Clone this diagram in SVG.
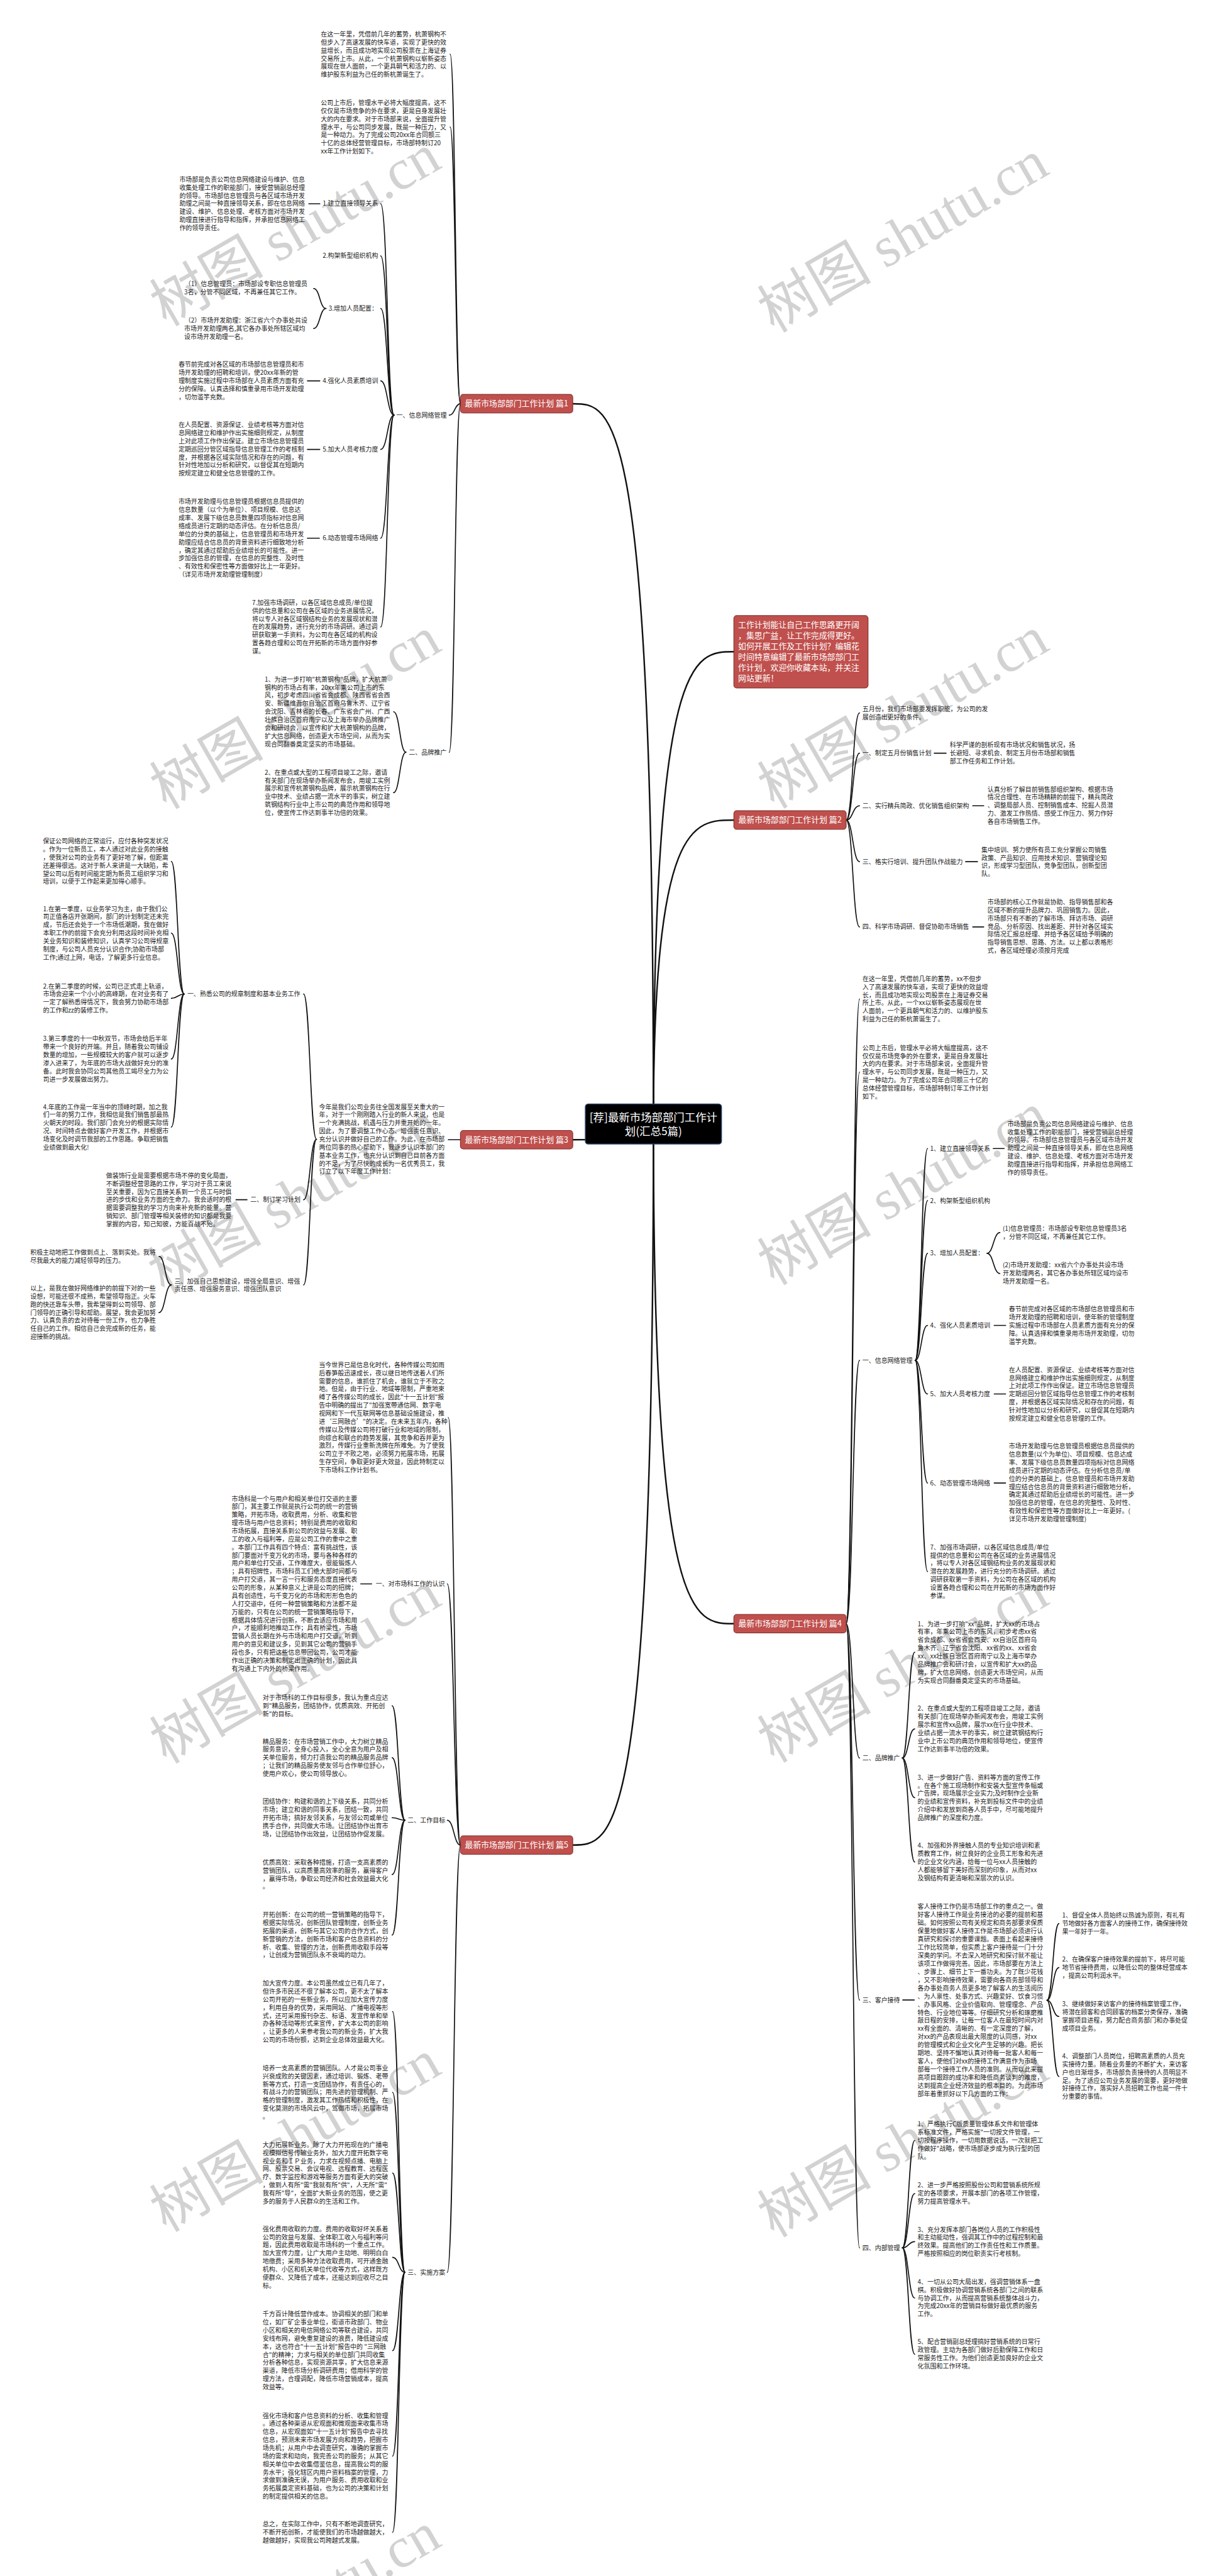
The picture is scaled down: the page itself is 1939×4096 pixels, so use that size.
<svg xmlns="http://www.w3.org/2000/svg" width="1939" height="4096" viewBox="0 0 1939 4096">
<style>
.t{font-family:"Noto Sans CJK SC","Noto Sans",sans-serif;font-size:13.2px;fill:#222}
.n{font-family:"Noto Sans CJK SC","Noto Sans",sans-serif;font-size:17px;fill:#fff}
.c{font-family:"Noto Sans CJK SC","Noto Sans",sans-serif;font-size:23px;fill:#fff}
.wm{font-family:"Liberation Serif","Noto Sans CJK SC",serif;font-size:120px;fill:#d2d2d2}
.l{fill:none;stroke:#111;stroke-width:2.2;stroke-linecap:round}
.r{fill:none;stroke:#111;stroke-width:3.2;stroke-linecap:round}
.nb{fill:#c0504d;stroke:#7d2c2a;stroke-width:1.5}
.cb{fill:#000;stroke:#243f62;stroke-width:2}
</style>
<rect width="1939" height="4096" fill="#fff"/>
<g transform="scale(0.757)">
<g id="watermarks">
<text class="wm" transform="translate(349 687) rotate(-30)">树图 shutu.cn</text>
<text class="wm" transform="translate(349 1701) rotate(-30)">树图 shutu.cn</text>
<text class="wm" transform="translate(345 2720) rotate(-30)">树图 shutu.cn</text>
<text class="wm" transform="translate(349 3706) rotate(-30)">树图 shutu.cn</text>
<text class="wm" transform="translate(349 4690) rotate(-30)">树图 shutu.cn</text>
<text class="wm" transform="translate(349 5682) rotate(-30)">树图 shutu.cn</text>
<text class="wm" transform="translate(1626 700) rotate(-30)">树图 shutu.cn</text>
<text class="wm" transform="translate(1626 1700) rotate(-30)">树图 shutu.cn</text>
<text class="wm" transform="translate(1626 2701) rotate(-30)">树图 shutu.cn</text>
<text class="wm" transform="translate(1626 3704) rotate(-30)">树图 shutu.cn</text>
<text class="wm" transform="translate(1626 4701) rotate(-30)">树图 shutu.cn</text>
</g>
<g id="connectors">
<path class="r" d="M1373 2361 C1373 848 1288 848 1203.5 848"/>
<path class="r" d="M1373 2361 C1373 1369 1457 1369 1542 1369"/>
<path class="r" d="M1373 2361 C1373 1722.5 1457 1722.5 1542 1722.5"/>
<path class="r" d="M1373 2361 C1373 2394 1288 2394 1203.5 2394"/>
<path class="r" d="M1373 2361 C1373 3410.5 1457 3410.5 1542 3410.5"/>
<path class="r" d="M1373 2361 C1373 3875.5 1288 3875.5 1203.5 3875.5"/>
<path class="l" d="M967.5 848 C956.8 848 956.8 114 946 114"/>
<path class="l" d="M967.5 848 C956.8 848 956.8 267 946 267"/>
<path class="l" d="M967.5 848 C955.8 848 955.8 872 944 872"/>
<path class="l" d="M967.5 848 C955.8 848 955.8 1580 944 1580"/>
<path class="l" d="M828 872 C814 872 814 428 800 428"/>
<path class="l" d="M828 872 C814 872 814 537.5 800 537.5"/>
<path class="l" d="M828 872 C814 872 814 648 800 648"/>
<path class="l" d="M828 872 C814 872 814 800 800 800"/>
<path class="l" d="M828 872 C814 872 814 944 800 944"/>
<path class="l" d="M828 872 C814 872 814 1130.5 800 1130.5"/>
<path class="l" d="M828 872 C814 872 814 1317 800 1317"/>
<path class="l" d="M649 428 H672"/>
<path class="l" d="M646 800 H672"/>
<path class="l" d="M646 944 H672"/>
<path class="l" d="M646 1130.5 H671"/>
<path class="l" d="M685 648 C672 648 672 606 659 606"/>
<path class="l" d="M685 648 C672 648 672 690 659 690"/>
<path class="l" d="M853 1580 C840 1580 840 1495 827 1495"/>
<path class="l" d="M853 1580 C840 1580 840 1665 827 1665"/>
<path class="l" d="M942 2394 H967.5"/>
<path class="l" d="M665 2393 C651.5 2393 651.5 2088 638 2088"/>
<path class="l" d="M665 2393 C651.5 2393 651.5 2520 638 2520"/>
<path class="l" d="M665 2393 C651.5 2393 651.5 2699 638 2699"/>
<path class="l" d="M387 2088 C373.5 2088 373.5 1809.5 360 1809.5"/>
<path class="l" d="M387 2088 C373.5 2088 373.5 1960 360 1960"/>
<path class="l" d="M387 2088 C373.5 2088 373.5 2097 360 2097"/>
<path class="l" d="M387 2088 C373.5 2088 373.5 2224.5 360 2224.5"/>
<path class="l" d="M387 2088 C373.5 2088 373.5 2367.5 360 2367.5"/>
<path class="l" d="M496 2520 H519"/>
<path class="l" d="M360 2699 C347 2699 347 2639 334 2639"/>
<path class="l" d="M360 2699 C347 2699 347 2757 334 2757"/>
<path class="l" d="M967.5 3875.5 C954.8 3875.5 954.8 2977.5 942 2977.5"/>
<path class="l" d="M967.5 3875.5 C953.8 3875.5 953.8 3327 940 3327"/>
<path class="l" d="M967.5 3875.5 C953.8 3875.5 953.8 3823.5 940 3823.5"/>
<path class="l" d="M967.5 3875.5 C953.8 3875.5 953.8 4773 940 4773"/>
<path class="l" d="M758 3327 H781"/>
<path class="l" d="M851 3823.5 C837.5 3823.5 837.5 3583 824 3583"/>
<path class="l" d="M851 3823.5 C837.5 3823.5 837.5 3692 824 3692"/>
<path class="l" d="M851 3823.5 C837.5 3823.5 837.5 3818 824 3818"/>
<path class="l" d="M851 3823.5 C837.5 3823.5 837.5 3937.5 824 3937.5"/>
<path class="l" d="M851 3823.5 C837.5 3823.5 837.5 4064.5 824 4064.5"/>
<path class="l" d="M851 4773 C838 4773 838 4225.5 825 4225.5"/>
<path class="l" d="M851 4773 C838 4773 838 4395 825 4395"/>
<path class="l" d="M851 4773 C838 4773 838 4564.5 825 4564.5"/>
<path class="l" d="M851 4773 C838 4773 838 4741.5 825 4741.5"/>
<path class="l" d="M851 4773 C838 4773 838 4937.5 825 4937.5"/>
<path class="l" d="M851 4773 C838 4773 838 5159 825 5159"/>
<path class="l" d="M851 4773 C838 4773 838 5319 825 5319"/>
<path class="l" d="M1778 1722.5 C1792 1722.5 1792 1497.5 1806 1497.5"/>
<path class="l" d="M1778 1722.5 C1792 1722.5 1792 1582 1806 1582"/>
<path class="l" d="M1778 1722.5 C1792 1722.5 1792 1692.5 1806 1692.5"/>
<path class="l" d="M1778 1722.5 C1792 1722.5 1792 1810 1806 1810"/>
<path class="l" d="M1778 1722.5 C1792 1722.5 1792 1947 1806 1947"/>
<path class="l" d="M1963 1582 H1988"/>
<path class="l" d="M2044 1692.5 H2067"/>
<path class="l" d="M2029 1810 H2054"/>
<path class="l" d="M2044 1947 H2067"/>
<path class="l" d="M1778 3410.5 C1792 3410.5 1792 2098.5 1806 2098.5"/>
<path class="l" d="M1778 3410.5 C1792 3410.5 1792 2252 1806 2252"/>
<path class="l" d="M1778 3410.5 C1792 3410.5 1792 2857.5 1806 2857.5"/>
<path class="l" d="M1778 3410.5 C1792 3410.5 1792 3692.7 1806 3692.7"/>
<path class="l" d="M1778 3410.5 C1792 3410.5 1792 4201 1806 4201"/>
<path class="l" d="M1778 3410.5 C1792 3410.5 1792 4721.6 1806 4721.6"/>
<path class="l" d="M1923 2857.5 C1936 2857.5 1936 2412.5 1949 2412.5"/>
<path class="l" d="M1923 2857.5 C1936 2857.5 1936 2522 1949 2522"/>
<path class="l" d="M1923 2857.5 C1936 2857.5 1936 2632.5 1949 2632.5"/>
<path class="l" d="M1923 2857.5 C1936 2857.5 1936 2784 1949 2784"/>
<path class="l" d="M1923 2857.5 C1936 2857.5 1936 2928 1949 2928"/>
<path class="l" d="M1923 2857.5 C1936 2857.5 1936 3115 1949 3115"/>
<path class="l" d="M1923 2857.5 C1936 2857.5 1936 3301 1949 3301"/>
<path class="l" d="M2087 2412.5 H2110"/>
<path class="l" d="M2089 2784 H2113"/>
<path class="l" d="M2089 2928 H2113"/>
<path class="l" d="M2089 3115 H2113"/>
<path class="l" d="M2074 2632.5 C2087.5 2632.5 2087.5 2589 2101 2589"/>
<path class="l" d="M2074 2632.5 C2087.5 2632.5 2087.5 2675 2101 2675"/>
<path class="l" d="M1896 3692.7 C1909 3692.7 1909 3470.5 1922 3470.5"/>
<path class="l" d="M1896 3692.7 C1909 3692.7 1909 3631.5 1922 3631.5"/>
<path class="l" d="M1896 3692.7 C1909 3692.7 1909 3776 1922 3776"/>
<path class="l" d="M1896 3692.7 C1909 3692.7 1909 3911 1922 3911"/>
<path class="l" d="M1897 4201 H1921"/>
<path class="l" d="M2200 4201.5 C2212.5 4201.5 2212.5 4040.5 2225 4040.5"/>
<path class="l" d="M2200 4201.5 C2212.5 4201.5 2212.5 4133 2225 4133"/>
<path class="l" d="M2200 4201.5 C2212.5 4201.5 2212.5 4235.5 2225 4235.5"/>
<path class="l" d="M2200 4201.5 C2212.5 4201.5 2212.5 4361.5 2225 4361.5"/>
<path class="l" d="M1896 4721.6 C1909 4721.6 1909 4496 1922 4496"/>
<path class="l" d="M1896 4721.6 C1909 4721.6 1909 4607.5 1922 4607.5"/>
<path class="l" d="M1896 4721.6 C1909 4721.6 1909 4708.5 1922 4708.5"/>
<path class="l" d="M1896 4721.6 C1909 4721.6 1909 4827 1922 4827"/>
<path class="l" d="M1896 4721.6 C1909 4721.6 1909 4945 1922 4945"/>
</g>

<g id="root"><rect class="cb" x="1230" y="2319" width="286" height="84" rx="6"/>
<text class="c" text-anchor="middle" x="1373" y="2356">[荐]最新市场部部门工作计</text>
<text class="c" text-anchor="middle" x="1373" y="2385">划(汇总5篇)</text></g>

<g id="intro"><rect class="nb" x="1542" y="1293" width="282" height="152" rx="6"/>
<text class="n" x="1551" y="1318"><tspan x="1551">工作计划能让自己工作思路更开阔</tspan><tspan x="1551" dy="22.6">，集思广益，让工作完成得更好。</tspan><tspan x="1551" dy="22.6">如何开展工作及工作计划？编辑花</tspan><tspan x="1551" dy="22.6">时间特意编辑了最新市场部部门工</tspan><tspan x="1551" dy="22.6">作计划，欢迎你收藏本站，并关注</tspan><tspan x="1551" dy="22.6">网站更新！</tspan></text></g>

<g id="p1"><rect class="nb" x="967.5" y="828.5" width="236" height="39" rx="6"/><text class="n" text-anchor="middle" x="1085.5" y="854">最新市场部部门工作计划 篇1</text></g>
<g id="p2"><rect class="nb" x="1542" y="1703" width="236" height="39" rx="6"/><text class="n" text-anchor="middle" x="1660" y="1728.5">最新市场部部门工作计划 篇2</text></g>
<g id="p3"><rect class="nb" x="967.5" y="2374.5" width="236" height="39" rx="6"/><text class="n" text-anchor="middle" x="1085.5" y="2400">最新市场部部门工作计划 篇3</text></g>
<g id="p4"><rect class="nb" x="1542" y="3391" width="236" height="39" rx="6"/><text class="n" text-anchor="middle" x="1660" y="3416.5">最新市场部部门工作计划 篇4</text></g>
<g id="p5"><rect class="nb" x="967.5" y="3856" width="236" height="39" rx="6"/><text class="n" text-anchor="middle" x="1085.5" y="3881.5">最新市场部部门工作计划 篇5</text></g>

<g id="p1-a1"><text class="t" x="674" y="76.6"><tspan x="674">在这一年里，凭借前几年的蓄势，杭萧钢构不</tspan><tspan x="674" dy="17">但步入了高速发展的快车道，实现了更快的效</tspan><tspan x="674" dy="17">益增长，而且成功地实现公司股票在上海证券</tspan><tspan x="674" dy="17">交易所上市。从此，一个杭萧钢构以崭新姿态</tspan><tspan x="674" dy="17">展现在世人面前，一个更具朝气和活力的、以</tspan><tspan x="674" dy="17">维护股东利益为己任的新杭萧诞生了。</tspan></text></g>
<g id="p1-a2"><text class="t" x="674" y="220.6"><tspan x="674">公司上市后，管理水平必将大幅度提高，这不</tspan><tspan x="674" dy="17">仅仅是市场竞争的外在要求，更是自身发展壮</tspan><tspan x="674" dy="17">大的内在要求。对于市场部来说，全面提升管</tspan><tspan x="674" dy="17">理水平，与公司同步发展，既是一种压力，又</tspan><tspan x="674" dy="17">是一种动力。为了完成公司20xx年合同额三</tspan><tspan x="674" dy="17">十亿的总体经营管理目标，市场部特制订20</tspan><tspan x="674" dy="17">xx年工作计划如下。</tspan></text></g>
<g id="p1-s1"><text class="t" x="833" y="876.6">一、信息网络管理</text></g>
<g id="p1-i1"><text class="t" x="678" y="432.6">1.建立直接领导关系</text></g>
<g id="p1-i2"><text class="t" x="678" y="542">2.构架新型组织机构</text></g>
<g id="p1-i3"><text class="t" x="690.5" y="652.6">3.增加人员配置：</text></g>
<g id="p1-i4"><text class="t" x="678" y="804.6">4.强化人员素质培训</text></g>
<g id="p1-i5"><text class="t" x="678" y="948.6">5.加大人员考核力度</text></g>
<g id="p1-i6"><text class="t" x="678" y="1135">6.动态管理市场网络</text></g>
<g id="p1-i7"><text class="t" x="529.6" y="1270.6"><tspan x="529.6">7.加强市场调研，以各区域信息成员/单位提</tspan><tspan x="529.6" dy="17">供的信息量和公司在各区域的业务进展情况，</tspan><tspan x="529.6" dy="17">将以专人对各区域钢结构业务的发展现状和潜</tspan><tspan x="529.6" dy="17">在的发展趋势，进行充分的市场调研。通过调</tspan><tspan x="529.6" dy="17">研获取第一手资料，为公司在各区域的机构设</tspan><tspan x="529.6" dy="17">置各趋合理和公司在开拓新的市场方面作好参</tspan><tspan x="529.6" dy="17">谋。</tspan></text></g>
<g id="p1-b1"><text class="t" x="377" y="381.6"><tspan x="377">市场部是负责公司信息网络建设与维护、信息</tspan><tspan x="377" dy="17">收集处理工作的职能部门，接受营销副总经理</tspan><tspan x="377" dy="17">的领导。市场部信息管理员与各区域市场开发</tspan><tspan x="377" dy="17">助理之间是一种直接领导关系，即在信息网络</tspan><tspan x="377" dy="17">建设、维护、信息处理、考核方面对市场开发</tspan><tspan x="377" dy="17">助理直接进行指导和指挥，并承担信息网络工</tspan><tspan x="377" dy="17">作的领导责任。</tspan></text></g>
<g id="p1-b3a"><text class="t" x="388" y="601.6"><tspan x="388">（1）信息管理员：市场部设专职信息管理员</tspan><tspan x="387" dy="17">3名，分管不同区域，不再兼任其它工作。</tspan></text></g>
<g id="p1-b3b"><text class="t" x="388" y="677.6"><tspan x="388">（2）市场开发助理：浙江省六个办事处共设</tspan><tspan x="387" dy="17">市场开发助理两名,其它各办事处所辖区域均</tspan><tspan x="387" dy="17">设市场开发助理一名。</tspan></text></g>
<g id="p1-b4"><text class="t" x="375" y="770.6"><tspan x="375">春节前完成对各区域的市场部信息管理员和市</tspan><tspan x="375" dy="17">场开发助理的招聘和培训，使20xx年新的管</tspan><tspan x="375" dy="17">理制度实施过程中市场部在人员素质方面有充</tspan><tspan x="375" dy="17">分的保障。认真选择和慎重录用市场开发助理</tspan><tspan x="375" dy="17">，切勿滥竽充数。</tspan></text></g>
<g id="p1-b5"><text class="t" x="375" y="897"><tspan x="375">在人员配置、资源保证、业绩考核等方面对信</tspan><tspan x="375" dy="17">息网络建立和维护作出实施细则规定，从制度</tspan><tspan x="375" dy="17">上对此项工作作出保证。建立市场信息管理员</tspan><tspan x="375" dy="17">定期巡回分管区域指导信息管理工作的考核制</tspan><tspan x="375" dy="17">度，并根据各区域实际情况和存在的问题，有</tspan><tspan x="375" dy="17">针对性地加以分析和研究，以督促其在短期内</tspan><tspan x="375" dy="17">按规定建立和健全信息管理的工作。</tspan></text></g>
<g id="p1-b6"><text class="t" x="375" y="1058.6"><tspan x="375">市场开发助理与信息管理员根据信息员提供的</tspan><tspan x="375" dy="17">信息数量（以个为单位）、项目规模、信息达</tspan><tspan x="375" dy="17">成率、发展下级信息员数量四项指标对信息网</tspan><tspan x="375" dy="17">络成员进行定期的动态评估。在分析信息员/</tspan><tspan x="375" dy="17">单位的分类的基础上，信息管理员和市场开发</tspan><tspan x="375" dy="17">助理应结合信息员的背景资料进行细致地分析</tspan><tspan x="375" dy="17">，确定其通过帮助后业绩增长的可能性。进一</tspan><tspan x="375" dy="17">步加强信息的管理，在信息的完整性、及时性</tspan><tspan x="375" dy="17">、有效性和保密性等方面做好比上一年更好。</tspan><tspan x="375" dy="17">（详见市场开发助理管理制度）</tspan></text></g>
<g id="p1-s2"><text class="t" x="859" y="1584.6">二、品牌推广</text></g>
<g id="p1-c1"><text class="t" x="556" y="1431.6"><tspan x="556">1、为进一步打响"杭萧钢构"品牌，扩大杭萧</tspan><tspan x="556" dy="17">钢构的市场占有率，20xx年乘公司上市的东</tspan><tspan x="556" dy="17">风，初步考虑四川省省会成都、陕西省省会西</tspan><tspan x="556" dy="17">安、新疆维吾尔自治区首府乌鲁木齐、辽宁省</tspan><tspan x="556" dy="17">会沈阳、吉林省的长春、广东省会广州、广西</tspan><tspan x="556" dy="17">壮族自治区首府南宁以及上海市举办品牌推广</tspan><tspan x="556" dy="17">会和研讨会，以宣传和扩大杭萧钢构的品牌，</tspan><tspan x="556" dy="17">扩大信息网络，创造更大市场空间，从而为实</tspan><tspan x="556" dy="17">现合同翻番奠定坚实的市场基础。</tspan></text></g>
<g id="p1-c2"><text class="t" x="556" y="1627"><tspan x="556">2、在重点或大型的工程项目竣工之际，邀请</tspan><tspan x="556" dy="17">有关部门在现场举办新闻发布会，用竣工实例</tspan><tspan x="556" dy="17">展示和宣传杭萧钢构品牌，展示杭萧钢构在行</tspan><tspan x="556" dy="17">业中技术、业绩占据一流水平的事实，树立建</tspan><tspan x="556" dy="17">筑钢结构行业中上市公司的典范作用和领导地</tspan><tspan x="556" dy="17">位，使宣传工作达到事半功倍的效果。</tspan></text></g>

<g id="p3-intro"><text class="t" x="670.5" y="2329.6"><tspan x="670.5">今年是我们公司业务往全国发展至关重大的一</tspan><tspan x="670.5" dy="17">年，对于一个刚刚踏入行业的新人来说，也是</tspan><tspan x="670.5" dy="17">一个充满挑战，机遇与压力并重开始的一年。</tspan><tspan x="670.5" dy="17">因此，为了要调整工作心态、增强责任意识、</tspan><tspan x="670.5" dy="17">充分认识并做好自己的工作。为此，在市场部</tspan><tspan x="670.5" dy="17">两位同事的热心帮助下，我逐步认识本部门的</tspan><tspan x="670.5" dy="17">基本业务工作，也充分认识到自己目前各方面</tspan><tspan x="670.5" dy="17">的不足，为了尽快的成长为一名优秀员工，我</tspan><tspan x="670.5" dy="17">订立了以下年度工作计划：</tspan></text></g>
<g id="p3-s1"><text class="t" x="393.5" y="2092.6">一、熟悉公司的规章制度和基本业务工作</text></g>
<g id="p3-s2"><text class="t" x="526" y="2524.6">二、制订学习计划</text></g>
<g id="p3-s3"><text class="t" x="366.7" y="2695.6"><tspan x="366.7">三、加强自己思想建设，增强全局意识、增强</tspan><tspan x="366.7" dy="17">责任感、增强服务意识、增强团队意识</tspan></text></g>
<g id="p3-q0"><text class="t" x="90" y="1771.6"><tspan x="90">保证公司网络的正常运行，应付各种突发状况</tspan><tspan x="90" dy="17">。作为一位新员工，本人通过对此业务的接触</tspan><tspan x="90" dy="17">，使我对公司的业务有了更好地了解，但距离</tspan><tspan x="90" dy="17">还差得很远。这对于新人来讲是一大缺陷，希</tspan><tspan x="90" dy="17">望公司以后有时间能定期为新员工组织学习和</tspan><tspan x="90" dy="17">培训，以便于工作起来更加得心顺手。</tspan></text></g>
<g id="p3-q1"><text class="t" x="90.4" y="1913.6"><tspan x="90.4">1.在第一季度，以业务学习为主，由于我们公</tspan><tspan x="90.4" dy="17">司正值各店开张期间，部门的计划制定还未完</tspan><tspan x="90.4" dy="17">成，节后还会处于一个市场低潮期，我在做好</tspan><tspan x="90.4" dy="17">本职工作的前提下会充分利用这段时间补充相</tspan><tspan x="90.4" dy="17">关业务知识和装修知识，认真学习公司得规章</tspan><tspan x="90.4" dy="17">制度，与公司人员充分认识合作;协助市场部</tspan><tspan x="90.4" dy="17">工作;通过上网，电话，了解更多行业信息。</tspan></text></g>
<g id="p3-q2"><text class="t" x="90.4" y="2076"><tspan x="90.4">2.在第二季度的时候，公司已正式走上轨道，</tspan><tspan x="90.4" dy="17">市场会迎来一个小小的高峰期，在对业务有了</tspan><tspan x="90.4" dy="17">一定了解熟悉得情况下，我会努力协助市场部</tspan><tspan x="90.4" dy="17">的工作和zz的装修工作。</tspan></text></g>
<g id="p3-q3"><text class="t" x="90.4" y="2186.6"><tspan x="90.4">3.第三季度的十一中秋双节，市场会给后半年</tspan><tspan x="90.4" dy="17">带来一个良好的开端。并且，随着我公司铺设</tspan><tspan x="90.4" dy="17">数量的增加，一些规模较大的客户就可以逐步</tspan><tspan x="90.4" dy="17">渗入进来了，为年底的市场大战做好充分的准</tspan><tspan x="90.4" dy="17">备。此时我会协同公司其他员工竭尽全力为公</tspan><tspan x="90.4" dy="17">司进一步发展做出努力。</tspan></text></g>
<g id="p3-q4"><text class="t" x="90.4" y="2329.6"><tspan x="90.4">4.年底的工作是一年当中的顶峰时期，加之我</tspan><tspan x="90.4" dy="17">们一年的努力工作，我相信是我们销售部最热</tspan><tspan x="90.4" dy="17">火朝天的时段。我们部门会充分的根据实际情</tspan><tspan x="90.4" dy="17">况、时间特点去做好客户开发工作，并根据市</tspan><tspan x="90.4" dy="17">场变化及时调节我部的工作思路。争取把销售</tspan><tspan x="90.4" dy="17">业绩做到最大化!</tspan></text></g>
<g id="p3-r"><text class="t" x="222.8" y="2474"><tspan x="222.8">做装饰行业是需要根据市场不停的变化局面，</tspan><tspan x="222.8" dy="17">不断调整经营思路的工作，学习对于员工来说</tspan><tspan x="222.8" dy="17">至关重要，因为它直接关系到一个员工与时俱</tspan><tspan x="222.8" dy="17">进的步伐和业务方面的生命力。我会适时的根</tspan><tspan x="222.8" dy="17">据需要调整我的学习方向来补充新的能量。营</tspan><tspan x="222.8" dy="17">销知识、部门管理等相关装修的知识都是我要</tspan><tspan x="222.8" dy="17">掌握的内容，知己知彼，方能百战不殆。</tspan></text></g>
<g id="p3-t1"><text class="t" x="63.6" y="2635"><tspan x="63.6">积极主动地把工作做到点上、落到实处。我将</tspan><tspan x="63.6" dy="17">尽我最大的能力减轻领导的压力。</tspan></text></g>
<g id="p3-t2"><text class="t" x="63.6" y="2710.6"><tspan x="63.6">以上，是我在做好网络维护的前提下对的一些</tspan><tspan x="63.6" dy="17">设想，可能还很不成熟，希望领导指正。火车</tspan><tspan x="63.6" dy="17">跑的快还靠车头带，我希望得到公司领导、部</tspan><tspan x="63.6" dy="17">门领导的正确引导和帮助。展望，我会更加努</tspan><tspan x="63.6" dy="17">力、认真负责的去对待每一份工作，也力争胜</tspan><tspan x="63.6" dy="17">任自己的工作。相信自己会完成新的任务，能</tspan><tspan x="63.6" dy="17">迎接新的挑战。</tspan></text></g>

<g id="p5-intro"><text class="t" x="670" y="2871.6"><tspan x="670">当今世界已是信息化时代，各种传媒公司如雨</tspan><tspan x="670" dy="17">后春笋般迅速成长，夜以继日地传送着人们所</tspan><tspan x="670" dy="17">需要的信息，谁抓住了机会，谁就立于不败之</tspan><tspan x="670" dy="17">地。但是，由于行业、地域等限制，严重地束</tspan><tspan x="670" dy="17">缚了各传媒公司的成长，因此"十一五计划"报</tspan><tspan x="670" dy="17">告中明确的提出了"加强宽带通信网、数字电</tspan><tspan x="670" dy="17">视网和下一代互联网等信息基础设施建设，推</tspan><tspan x="670" dy="17">进‘三网融合’"的决定。在未来五年内，各种</tspan><tspan x="670" dy="17">传媒以及传媒公司将打破行业和地域的限制，</tspan><tspan x="670" dy="17">向综合和联合的趋势发展，其竞争和吞并更为</tspan><tspan x="670" dy="17">激烈，传媒行业重新洗牌在所难免。为了使我</tspan><tspan x="670" dy="17">公司立于不败之地，必须努力拓展市场，拓展</tspan><tspan x="670" dy="17">生存空间，争取更好更大效益，因此特制定以</tspan><tspan x="670" dy="17">下市场科工作计划书。</tspan></text></g>
<g id="p5-s1"><text class="t" x="789.5" y="3331.6">一、对市场科工作的认识</text></g>
<g id="p5-u1"><text class="t" x="486.7" y="3152.6"><tspan x="486.7">市场科是一个与用户和相关单位打交道的主要</tspan><tspan x="486.7" dy="17">部门，其主要工作就是执行公司的统一的营销</tspan><tspan x="486.7" dy="17">策略，开拓市场，收取费用，分析、收集和管</tspan><tspan x="486.7" dy="17">理市场与用户信息资料；特别是费用的收取和</tspan><tspan x="486.7" dy="17">市场拓展，直接关系到公司的效益与发展、职</tspan><tspan x="486.7" dy="17">工的收入与福利等，应是公司工作的重中之重</tspan><tspan x="486.7" dy="17">。本部门工作具有四个特点：富有挑战性，该</tspan><tspan x="486.7" dy="17">部门要面对千变万化的市场，要与各种各样的</tspan><tspan x="486.7" dy="17">用户和单位打交道，工作难度大，很能锻炼人</tspan><tspan x="486.7" dy="17">；具有招牌性，市场科员工们绝大部时间都与</tspan><tspan x="486.7" dy="17">用户打交道，其一言一行和服务态度直接代表</tspan><tspan x="486.7" dy="17">公司的形象，从某种意义上讲是公司的招牌；</tspan><tspan x="486.7" dy="17">具有创造性，与千变万化的市场和形形色色的</tspan><tspan x="486.7" dy="17">人打交道中，任何一种营销策略和方法都不是</tspan><tspan x="486.7" dy="17">万能的，只有在公司的统一营销策略指导下，</tspan><tspan x="486.7" dy="17">根据具体情况进行创新，不断去适应市场和用</tspan><tspan x="486.7" dy="17">户，才能顺利地推动工作；具有桥梁性，市场</tspan><tspan x="486.7" dy="17">营销人员长期在外与市场和用户打交道，听到</tspan><tspan x="486.7" dy="17">用户的意见和建议多，见到其它公司的营销手</tspan><tspan x="486.7" dy="17">段也多，只有把这些信息带回公司，公司才能</tspan><tspan x="486.7" dy="17">作出正确的决策和制定出正确的计划，因此具</tspan><tspan x="486.7" dy="17">有沟通上下内外的桥梁作用。</tspan></text></g>
<g id="p5-s2"><text class="t" x="856.5" y="3828">二、工作目标</text></g>
<g id="p5-v1"><text class="t" x="552" y="3570.6"><tspan x="552">对于市场科的工作目标很多，我认为重点应达</tspan><tspan x="552" dy="17">到"精品服务，团结协作，优质高效、开拓创</tspan><tspan x="552" dy="17">新"的目标。</tspan></text></g>
<g id="p5-v2"><text class="t" x="552" y="3662.6"><tspan x="552">精品服务：在市场营销工作中，大力树立精品</tspan><tspan x="552" dy="17">服务意识，全身心投入，全心全意为用户及相</tspan><tspan x="552" dy="17">关单位服务，倾力打造我公司的精品服务品牌</tspan><tspan x="552" dy="17">；让我们的精品服务使友邻与合作单位舒心，</tspan><tspan x="552" dy="17">使用户欢心，使公司领导放心。</tspan></text></g>
<g id="p5-v3"><text class="t" x="552" y="3789"><tspan x="552">团结协作：构建和谐的上下级关系，共同分析</tspan><tspan x="552" dy="17">市场；建立和谐的同事关系，团结一致，共同</tspan><tspan x="552" dy="17">开拓市场；搞好友邻关系，与友邻公司或单位</tspan><tspan x="552" dy="17">携手合作，共同做大市场。让团结协作出育市</tspan><tspan x="552" dy="17">场，让团结协作出效益，让团结协作促发展。</tspan></text></g>
<g id="p5-v4"><text class="t" x="552" y="3916.6"><tspan x="552">优质高效：采取各种措施，打造一支高素质的</tspan><tspan x="552" dy="17">营销团队，以高质量高效率的服务，赢得客户</tspan><tspan x="552" dy="17">，赢得市场，争取公司经济和社会效益最大化</tspan><tspan x="552" dy="17">。</tspan></text></g>
<g id="p5-v5"><text class="t" x="552" y="4026.6"><tspan x="552">开拓创新：在公司的统一营销策略的指导下，</tspan><tspan x="552" dy="17">根据实际情况，创新团队管理制度，创新业务</tspan><tspan x="552" dy="17">拓展的渠道，创新与其它公司的合作方式，创</tspan><tspan x="552" dy="17">新营销的方法，创新市场和客户信息资料的分</tspan><tspan x="552" dy="17">析、收集、管理的方法，创新费用收取手段等</tspan><tspan x="552" dy="17">，让创成为营销团队永不衰竭的动力。</tspan></text></g>
<g id="p5-s3"><text class="t" x="856.5" y="4777.6">三、实施方案</text></g>
<g id="p5-w1"><text class="t" x="552" y="4170.6"><tspan x="552">加大宣传力度。本公司虽然成立已有几年了，</tspan><tspan x="552" dy="17">但许多市民还不很了解本公司，更不太了解本</tspan><tspan x="552" dy="17">公司开拓的一些新业务，所以应加大宣传力度</tspan><tspan x="552" dy="17">，利用自身的优势，采用网站、广播电视等形</tspan><tspan x="552" dy="17">式，还可采用报刊杂志、标语、发宣传单和举</tspan><tspan x="552" dy="17">办各种活动等形式来宣传，扩大本公司的影响</tspan><tspan x="552" dy="17">，让更多的人来参考我公司的新业务，扩大我</tspan><tspan x="552" dy="17">公司的市场份额，达到企业总体效益最大化。</tspan></text></g>
<g id="p5-w2"><text class="t" x="552" y="4348.6"><tspan x="552">培养一支高素质的营销团队。人才是公司事业</tspan><tspan x="552" dy="17">兴衰成败的关键因素，通过培训、锻炼、老带</tspan><tspan x="552" dy="17">新等方式，打造一支团结协作，有责任心的，</tspan><tspan x="552" dy="17">有战斗力的营销团队；用先进的管理机制、严</tspan><tspan x="552" dy="17">格的管理制度，激发其工作热情和积极性，在</tspan><tspan x="552" dy="17">变化莫测的市场风云中，驾御市场，拓展市场</tspan><tspan x="552" dy="17">。</tspan></text></g>
<g id="p5-w3"><text class="t" x="552" y="4509.6"><tspan x="552">大力拓展新业务。除了大力开拓现在的广播电</tspan><tspan x="552" dy="17">视模拟信号传输业务外，加大力度开拓数字电</tspan><tspan x="552" dy="17">视业务和ＩＰ业务，力求在视频点播、电脑上</tspan><tspan x="552" dy="17">网、股票交易、会议电视、远程教育、远程医</tspan><tspan x="552" dy="17">疗、数字监控和游戏等服务方面有更大的突破</tspan><tspan x="552" dy="17">，做到人有所"需"我就有所"供"，人无所"需"</tspan><tspan x="552" dy="17">我有所"导"，全面扩大新业务的范围，使之更</tspan><tspan x="552" dy="17">多的服务于人民群众的生活和工作。</tspan></text></g>
<g id="p5-w4"><text class="t" x="552" y="4686.6"><tspan x="552">强化费用收取的力度。费用的收取好坏关系着</tspan><tspan x="552" dy="17">公司的效益与发展、全体职工收入与福利等问</tspan><tspan x="552" dy="17">题，因此费用收取是市场科的一个重点工作。</tspan><tspan x="552" dy="17">加大宣传力度，让广大用户主动地、明明白白</tspan><tspan x="552" dy="17">地缴费；采用多种方法收取费用，可开通金融</tspan><tspan x="552" dy="17">机构、小区和机关单位代收等方式，这样既方</tspan><tspan x="552" dy="17">便群众、又降低了成本，还能达到应收尽之目</tspan><tspan x="552" dy="17">标。</tspan></text></g>
<g id="p5-w5"><text class="t" x="552" y="4865.6"><tspan x="552">千方百计降低营作成本。协调相关的部门和单</tspan><tspan x="552" dy="17">位，如厂矿企事业单位，街道市政部门、物业</tspan><tspan x="552" dy="17">小区和相关的电信网络公司等联合建设，共同</tspan><tspan x="552" dy="17">安线布网，避免重复建设的浪费，降低建设成</tspan><tspan x="552" dy="17">本，这也符合"十一五计划"报告中的 "三网融</tspan><tspan x="552" dy="17">合"的精神；力求与相关的单位部门共同收集</tspan><tspan x="552" dy="17">分析各种信息，实现资源共享，扩大信息来源</tspan><tspan x="552" dy="17">渠道，降低市场分析调研费用；借用科学的管</tspan><tspan x="552" dy="17">理方法，合理调配，降低市场营销成本，提高</tspan><tspan x="552" dy="17">效益等。</tspan></text></g>
<g id="p5-w6"><text class="t" x="552" y="5078.6"><tspan x="552">强化市场和客户信息资料的分析、收集和管理</tspan><tspan x="552" dy="17">。通过各种渠道从宏观面和微观面来收集市场</tspan><tspan x="552" dy="17">信息，从宏观面如"十一五计划"报告中去寻找</tspan><tspan x="552" dy="17">信息，预测未来市场发展方向和趋势，把握市</tspan><tspan x="552" dy="17">场先机；从用户中去调查研究，准确的掌握市</tspan><tspan x="552" dy="17">场的需求和动向，我完善公司的服务；从其它</tspan><tspan x="552" dy="17">相关单位中去收集借鉴信息，提高我公司的服</tspan><tspan x="552" dy="17">务水平；强化辖区内用户资料档案的管理，力</tspan><tspan x="552" dy="17">求做到准确无误，为用户服务、费用收取和业</tspan><tspan x="552" dy="17">务拓展奠定资料基础，也为公司的决策和计划</tspan><tspan x="552" dy="17">的制定提供相关的信息。</tspan></text></g>
<g id="p5-w7"><text class="t" x="552" y="5306.6"><tspan x="552">总之，在实际工作中，只有不断地调查研究，</tspan><tspan x="552" dy="17">不断开拓创新，才能使我们的市场越做越大，</tspan><tspan x="552" dy="17">越做越好，实现我公司跨越式发展。</tspan></text></g>

<g id="p2-a"><text class="t" x="1812" y="1493.6"><tspan x="1812">五月份，我们市场部要发挥职能，为公司的发</tspan><tspan x="1812" dy="17">展创造出更好的条件。</tspan></text></g>
<g id="p2-s1"><text class="t" x="1812" y="1586.6">一、制定五月份销售计划</text></g>
<g id="p2-b1"><text class="t" x="1995.6" y="1569.6"><tspan x="1995.6">科学严谨的剖析现有市场状况和销售状况，扬</tspan><tspan x="1995.6" dy="17">长避短、寻求机会、制定五月份市场部和销售</tspan><tspan x="1995.6" dy="17">部工作任务和工作计划。</tspan></text></g>
<g id="p2-s2"><text class="t" x="1812" y="1697">二、实行精兵简政、优化销售组织架构</text></g>
<g id="p2-b2"><text class="t" x="2075" y="1662.6"><tspan x="2075">认真分析了解目前销售部组织架构、根据市场</tspan><tspan x="2075" dy="17">情况合理性、在市场精耕的前提下，精兵简政</tspan><tspan x="2075" dy="17">、调整局部人员、控制销售成本、挖掘人员潜</tspan><tspan x="2075" dy="17">力、激发工作热情、感受工作压力、努力作好</tspan><tspan x="2075" dy="17">各自市场销售工作。</tspan></text></g>
<g id="p2-s3"><text class="t" x="1812" y="1814.6">三、格实行培训、提升团队作战能力</text></g>
<g id="p2-b3"><text class="t" x="2062" y="1789.6"><tspan x="2062">集中培训、努力使所有员工充分掌握公司销售</tspan><tspan x="2062" dy="17">政策、产品知识、应用技术知识、营销理论知</tspan><tspan x="2062" dy="17">识，形成学习型团队，竞争型团队，创新型团</tspan><tspan x="2062" dy="17">队。</tspan></text></g>
<g id="p2-s4"><text class="t" x="1812" y="1951.6">四、科学市场调研、督促协助市场销售</text></g>
<g id="p2-b4"><text class="t" x="2075" y="1899.6"><tspan x="2075">市场部的核心工作就是协助、指导销售部和各</tspan><tspan x="2075" dy="17">区域不断的提升品牌力、巩固销售力。因此，</tspan><tspan x="2075" dy="17">市场部只有不断的了解市场、拜访市场、调研</tspan><tspan x="2075" dy="17">竞品、分析原因、找出差距、并针对各区域实</tspan><tspan x="2075" dy="17">际情况汇报总经理、并给予各区域给予明确的</tspan><tspan x="2075" dy="17">指导销售思想、思路、方法。以上都以表格形</tspan><tspan x="2075" dy="17">式，各区域经理必须按月完成</tspan></text></g>

<g id="p4-d1"><text class="t" x="1812" y="2060.6"><tspan x="1812">在这一年里，凭借前几年的蓄势，xx不但步</tspan><tspan x="1812" dy="17">入了高速发展的快车道，实现了更快的效益增</tspan><tspan x="1812" dy="17">长，而且成功地实现公司股票在上海证券交易</tspan><tspan x="1812" dy="17">所上市。从此，一个xx以崭新姿态展现在世</tspan><tspan x="1812" dy="17">人面前，一个更具朝气和活力的、以维护股东</tspan><tspan x="1812" dy="17">利益为己任的新杭萧诞生了。</tspan></text></g>
<g id="p4-d2"><text class="t" x="1812" y="2205.6"><tspan x="1812">公司上市后，管理水平必将大幅度提高，这不</tspan><tspan x="1812" dy="17">仅仅是市场竞争的外在要求，更是自身发展壮</tspan><tspan x="1812" dy="17">大的内在要求。对于市场部来说，全面提升管</tspan><tspan x="1812" dy="17">理水平，与公司同步发展，既是一种压力，又</tspan><tspan x="1812" dy="17">是一种动力。为了完成公司年合同额三十亿的</tspan><tspan x="1812" dy="17">总体经营管理目标，市场部特制订年工作计划</tspan><tspan x="1812" dy="17">如下。</tspan></text></g>
<g id="p4-s1"><text class="t" x="1812" y="2862">一、信息网络管理</text></g>
<g id="p4-e1"><text class="t" x="1954.5" y="2417">1、建立直接领导关系</text></g>
<g id="p4-f1"><text class="t" x="2117" y="2365.6"><tspan x="2117">市场部是负责公司信息网络建设与维护、信息</tspan><tspan x="2117" dy="17">收集处理工作的职能部门，接受营销副总经理</tspan><tspan x="2117" dy="17">的领导。市场部信息管理员与各区域市场开发</tspan><tspan x="2117" dy="17">助理之间是一种直接领导关系，即在信息网络</tspan><tspan x="2117" dy="17">建设、维护、信息处理、考核方面对市场开发</tspan><tspan x="2117" dy="17">助理直接进行指导和指挥，并承担信息网络工</tspan><tspan x="2117" dy="17">作的领导责任。</tspan></text></g>
<g id="p4-e2"><text class="t" x="1954.5" y="2526.6">2、构架新型组织机构</text></g>
<g id="p4-e3"><text class="t" x="1954.5" y="2637">3、增加人员配置：</text></g>
<g id="p4-e3a"><text class="t" x="2107" y="2585"><tspan x="2107">(1)信息管理员：市场部设专职信息管理员3名</tspan><tspan x="2107" dy="17">，分管不同区域，不再兼任其它工作。</tspan></text></g>
<g id="p4-e3b"><text class="t" x="2107" y="2662"><tspan x="2107">(2)市场开发助理：xx省六个办事处共设市场</tspan><tspan x="2107" dy="17">开发助理两名，其它各办事处所辖区域均设市</tspan><tspan x="2107" dy="17">场开发助理一名。</tspan></text></g>
<g id="p4-e4"><text class="t" x="1954.5" y="2788.6">4、强化人员素质培训</text></g>
<g id="p4-f4"><text class="t" x="2120" y="2754.6"><tspan x="2120">春节前完成对各区域的市场部信息管理员和市</tspan><tspan x="2120" dy="17">场开发助理的招聘和培训，使年新的管理制度</tspan><tspan x="2120" dy="17">实施过程中市场部在人员素质方面有充分的保</tspan><tspan x="2120" dy="17">障。认真选择和慎重录用市场开发助理，切勿</tspan><tspan x="2120" dy="17">滥竽充数。</tspan></text></g>
<g id="p4-e5"><text class="t" x="1954.5" y="2932.6">5、加大人员考核力度</text></g>
<g id="p4-f5"><text class="t" x="2120" y="2882"><tspan x="2120">在人员配置、资源保证、业绩考核等方面对信</tspan><tspan x="2120" dy="17">息网络建立和维护作出实施细则规定，从制度</tspan><tspan x="2120" dy="17">上对此项工作作出保证。建立市场信息管理员</tspan><tspan x="2120" dy="17">定期巡回分管区域指导信息管理工作的考核制</tspan><tspan x="2120" dy="17">度，并根据各区域实际情况和存在的问题，有</tspan><tspan x="2120" dy="17">针对性地加以分析和研究，以督促其在短期内</tspan><tspan x="2120" dy="17">按规定建立和健全信息管理的工作。</tspan></text></g>
<g id="p4-e6"><text class="t" x="1954.5" y="3119.6">6、动态管理市场网络</text></g>
<g id="p4-f6"><text class="t" x="2120" y="3042.6"><tspan x="2120">市场开发助理与信息管理员根据信息员提供的</tspan><tspan x="2120" dy="17">信息数量(以个为单位)、项目规模、信息达成</tspan><tspan x="2120" dy="17">率、发展下级信息员数量四项指标对信息网络</tspan><tspan x="2120" dy="17">成员进行定期的动态评估。在分析信息员/单</tspan><tspan x="2120" dy="17">位的分类的基础上，信息管理员和市场开发助</tspan><tspan x="2120" dy="17">理应结合信息员的背景资料进行细致地分析，</tspan><tspan x="2120" dy="17">确定其通过帮助后业绩增长的可能性。进一步</tspan><tspan x="2120" dy="17">加强信息的管理，在信息的完整性、及时性、</tspan><tspan x="2120" dy="17">有效性和保密性等方面做好比上一年更好。(</tspan><tspan x="2120" dy="17">详见市场开发助理管理制度)</tspan></text></g>
<g id="p4-e7"><text class="t" x="1954.5" y="3254.6"><tspan x="1954.5">7、加强市场调研，以各区域信息成员/单位</tspan><tspan x="1954.5" dy="17">提供的信息量和公司在各区域的业务进展情况</tspan><tspan x="1954.5" dy="17">，将以专人对各区域钢结构业务的发展现状和</tspan><tspan x="1954.5" dy="17">潜在的发展趋势，进行充分的市场调研。通过</tspan><tspan x="1954.5" dy="17">调研获取第一手资料，为公司在各区域的机构</tspan><tspan x="1954.5" dy="17">设置各趋合理和公司在开拓新的市场方面作好</tspan><tspan x="1954.5" dy="17">参谋。</tspan></text></g>
<g id="p4-s2"><text class="t" x="1812" y="3697.3">二、品牌推广</text></g>
<g id="p4-g1"><text class="t" x="1928" y="3415.6"><tspan x="1928">1、为进一步打响"xx"品牌，扩大xx的市场占</tspan><tspan x="1928" dy="17">有率，年乘公司上市的东风，初步考虑xx省</tspan><tspan x="1928" dy="17">省会成都、xx省省会西安、xx自治区首府乌</tspan><tspan x="1928" dy="17">鲁木齐、辽宁省会沈阳、xx省的xx、xx省会</tspan><tspan x="1928" dy="17">xx、xx壮族自治区首府南宁以及上海市举办</tspan><tspan x="1928" dy="17">品牌推广会和研讨会，以宣传和扩大xx的品</tspan><tspan x="1928" dy="17">牌，扩大信息网络，创造更大市场空间，从而</tspan><tspan x="1928" dy="17">为实现合同翻番奠定坚实的市场基础。</tspan></text></g>
<g id="p4-g2"><text class="t" x="1928" y="3593.6"><tspan x="1928">2、在重点或大型的工程项目竣工之际，邀请</tspan><tspan x="1928" dy="17">有关部门在现场举办新闻发布会，用竣工实例</tspan><tspan x="1928" dy="17">展示和宣传xx品牌，展示xx在行业中技术、</tspan><tspan x="1928" dy="17">业绩占据一流水平的事实，树立建筑钢结构行</tspan><tspan x="1928" dy="17">业中上市公司的典范作用和领导地位，使宣传</tspan><tspan x="1928" dy="17">工作达到事半功倍的效果。</tspan></text></g>
<g id="p4-g3"><text class="t" x="1928" y="3738"><tspan x="1928">3、进一步做好广告、资料等方面的宣传工作</tspan><tspan x="1928" dy="17">。在各个施工现场制作和安装大型宣传条幅或</tspan><tspan x="1928" dy="17">广告牌，现场展示企业实力;及时制作企业新</tspan><tspan x="1928" dy="17">的业绩和宣传资料，补充到投标文件中的业绩</tspan><tspan x="1928" dy="17">介绍中和发放到商各人员手中，尽可能地提升</tspan><tspan x="1928" dy="17">品牌推广的深度和力度。</tspan></text></g>
<g id="p4-g4"><text class="t" x="1928" y="3881.6"><tspan x="1928">4、加强和外界接触人员的专业知识培训和素</tspan><tspan x="1928" dy="17">质教育工作，树立良好的企业员工形象和先进</tspan><tspan x="1928" dy="17">的企业文化内涵，给每一位与xx人员接触的</tspan><tspan x="1928" dy="17">人都能够留下美好而深刻的印象，从而对xx</tspan><tspan x="1928" dy="17">及钢结构有更清晰和深层次的认识。</tspan></text></g>
<g id="p4-s3"><text class="t" x="1812" y="4205.6">三、客户接待</text></g>
<g id="p4-h"><text class="t" x="1928" y="4009.6"><tspan x="1928">客人接待工作仍是市场部工作的重点之一。做</tspan><tspan x="1928" dy="17.1">好客人接待工作是业务接洽的必要的提前和基</tspan><tspan x="1928" dy="17.1">础。如何按照公司有关规定和商务部要求保质</tspan><tspan x="1928" dy="17.1">保量地做好客人接待工作是市场部必须进行认</tspan><tspan x="1928" dy="17.1">真研究和探讨的重要课题。表面上看起来接待</tspan><tspan x="1928" dy="17.1">工作比较简单，但实质上客户接待是一门十分</tspan><tspan x="1928" dy="17.1">深奥的学问。不去深入地研究和探讨就不能让</tspan><tspan x="1928" dy="17.1">该项工作做得完善。因此，市场部要在方法上</tspan><tspan x="1928" dy="17.1">、步骤上、细节上下一番功夫。为了既少花钱</tspan><tspan x="1928" dy="17.1">，又不影响接待效果，需要向各商务部领导和</tspan><tspan x="1928" dy="17.1">各办事处商务人员更多地了解客人的生活阅历</tspan><tspan x="1928" dy="17.1">、为人禀性、处事方式、兴趣爱好、饮食习惯</tspan><tspan x="1928" dy="17.1">、办事风格、企业价值取向、管理理念、产品</tspan><tspan x="1928" dy="17.1">特色、行业地位等等。仔细研究分析和琢磨推</tspan><tspan x="1928" dy="17.1">敲日程的安排，让每一位客人在最短时间内对</tspan><tspan x="1928" dy="17.1">xx有全面的、清晰的、有一定深度的了解，</tspan><tspan x="1928" dy="17.1">对xx的产品表现出最大限度的认同感，对xx</tspan><tspan x="1928" dy="17.1">的管理模式和企业文化产生足够的兴趣。把长</tspan><tspan x="1928" dy="17.1">期地、坚持不懈地认真对待每一批客人和每一</tspan><tspan x="1928" dy="17.1">客人，使他们对xx的接待工作满意作为市场</tspan><tspan x="1928" dy="17.1">部每一个接待工作人员的准则。从而以此来提</tspan><tspan x="1928" dy="17.1">高项目跟踪的成功率和降低商务谈判的难度，</tspan><tspan x="1928" dy="17.1">达到提高企业经济效益的根本目的。为此市场</tspan><tspan x="1928" dy="17.1">部年着重抓好以下几方面的工作：</tspan></text></g>
<g id="p4-h1"><text class="t" x="2231.7" y="4028"><tspan x="2231.7">1、督促全体人员始终以热诚为原则，有礼有</tspan><tspan x="2231.7" dy="17">节地做好各方面客人的接待工作，确保接待效</tspan><tspan x="2231.7" dy="17">果一年好于一年。</tspan></text></g>
<g id="p4-h2"><text class="t" x="2231.7" y="4120.6"><tspan x="2231.7">2、在确保客户接待效果的提前下，将尽可能</tspan><tspan x="2231.7" dy="17">地节省接待费用，以降低公司的整体经营成本</tspan><tspan x="2231.7" dy="17">，提高公司利润水平。</tspan></text></g>
<g id="p4-h3"><text class="t" x="2231.7" y="4214.6"><tspan x="2231.7">3、继续做好来访客户的接待档案管理工作，</tspan><tspan x="2231.7" dy="17">将潜在顾客和合同顾客的档案分类保存，准确</tspan><tspan x="2231.7" dy="17">掌握项目进程，努力配合商务部门和办事处促</tspan><tspan x="2231.7" dy="17">成项目业务。</tspan></text></g>
<g id="p4-h4"><text class="t" x="2231.7" y="4323.6"><tspan x="2231.7">4、调整部门人员岗位，招聘高素质的人员充</tspan><tspan x="2231.7" dy="17">实接待力量。随着业务量的不断扩大，来访客</tspan><tspan x="2231.7" dy="17">户也日渐增多，市场部负责接待的人员明显不</tspan><tspan x="2231.7" dy="17">足。为了适应公司业务发展的需要，更好地做</tspan><tspan x="2231.7" dy="17">好接待工作，落实好人员招聘工作也是一件十</tspan><tspan x="2231.7" dy="17">分重要的事情。</tspan></text></g>
<g id="p4-s4"><text class="t" x="1812" y="4726.2">四、内部管理</text></g>
<g id="p4-k1"><text class="t" x="1928" y="4466.6"><tspan x="1928">1、严格执行C版质量管理体系文件和管理体</tspan><tspan x="1928" dy="17">系标准文件，严格实施"一切按文件管理，一</tspan><tspan x="1928" dy="17">切按程序操作，一切用数据说话，一次就把工</tspan><tspan x="1928" dy="17">作做好"战略，使市场部逐步成为执行型的团</tspan><tspan x="1928" dy="17">队。</tspan></text></g>
<g id="p4-k2"><text class="t" x="1928" y="4595"><tspan x="1928">2、进一步严格按照股份公司和营销系统所规</tspan><tspan x="1928" dy="17">定的各项要求，开展本部门的各项工作管理，</tspan><tspan x="1928" dy="17">努力提高管理水平。</tspan></text></g>
<g id="p4-k3"><text class="t" x="1928" y="4687.6"><tspan x="1928">3、充分发挥本部门各岗位人员的工作积极性</tspan><tspan x="1928" dy="17">和主动能动性，强调其工作中的过程控制和最</tspan><tspan x="1928" dy="17">终效果。提高他们的工作责任性和工作质量。</tspan><tspan x="1928" dy="17">严格按照相应的岗位职责实行考核制。</tspan></text></g>
<g id="p4-k4"><text class="t" x="1928" y="4797.6"><tspan x="1928">4、一切从公司大局出发，强调营销体系一盘</tspan><tspan x="1928" dy="17">棋。积极做好协调营销系统各部门之间的联系</tspan><tspan x="1928" dy="17">与协调工作，从而提高营销系统整体战斗力，</tspan><tspan x="1928" dy="17">为完成20xx年的营销目标做好最优质的服务</tspan><tspan x="1928" dy="17">工作。</tspan></text></g>
<g id="p4-k5"><text class="t" x="1928" y="4924"><tspan x="1928">5、配合营销副总经理搞好营销系统的日常行</tspan><tspan x="1928" dy="17">政管理。主动为各部门做好后勤保障工作和日</tspan><tspan x="1928" dy="17">常服务性工作。为他们创造更加良好的企业文</tspan><tspan x="1928" dy="17">化氛围和工作环境。</tspan></text></g>
</g>
</svg>
